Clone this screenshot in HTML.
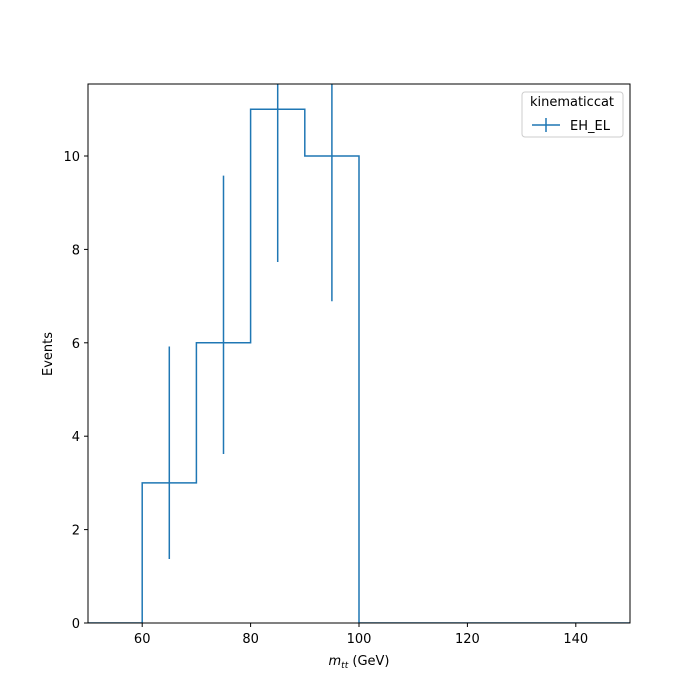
<!DOCTYPE html>
<html><head><meta charset="utf-8"><style>body{margin:0;background:#fff}svg{display:block;font-family:"DejaVu Sans","Liberation Sans",sans-serif}</style></head>
<body>
<script>
const binEdges=[50,60,70,80,90,100,110,120,130,140,150];
const counts=[0,3,6,11,10,0,0,0,0,0];
const errLow=[0,1.37,3.62,7.73,6.89,0,0,0,0,0];
const errHigh=[0,5.92,9.58,15.4,14.26,0,0,0,0,0];
const xTicks=[60,80,100,120,140];
const yTicks=[0,2,4,6,8,10];
</script>
<svg width="700" height="700">
<rect x="0" y="0" width="700" height="700" fill="#fff"/>
<defs><clipPath id="c"><rect x="88" y="84" width="542" height="539"/></clipPath></defs>
<g id="plot" clip-path="url(#c)"></g>
<rect x="88" y="84" width="542" height="539" fill="none" stroke="#000" stroke-width="1"/>
<g id="axes" font-size="13"></g>
<text x="359" y="665" text-anchor="middle" font-size="13"><tspan font-style="italic">m</tspan><tspan font-style="italic" font-size="9" dy="3">tt</tspan><tspan dy="-3"> (GeV)</tspan></text>
<text transform="translate(52,354) rotate(-90)" text-anchor="middle" font-size="13">Events</text>
<g>
<rect x="522" y="92" width="101" height="45" rx="3" fill="#fff" fill-opacity="0.8" stroke="#ccc"/>
<text x="572" y="106" text-anchor="middle" font-size="13">kinematiccat</text>
<line x1="532" y1="125" x2="560" y2="125" stroke="#1f77b4" stroke-width="1.5"/>
<line x1="546" y1="118" x2="546" y2="132" stroke="#1f77b4" stroke-width="1.5"/>
<text x="570" y="130" font-size="13">EH_EL</text>
</g>
</svg>
<script>
(function(){
var NS="http://www.w3.org/2000/svg";
function X(v){return 88+(v-50)*542/100;}
function Y(v){return 623-v*46.7;}
var plot=document.getElementById('plot'),axes=document.getElementById('axes');
function mk(p,t,a){var e=document.createElementNS(NS,t);for(var k in a)e.setAttribute(k,a[k]);p.appendChild(e);return e;}
var d="M"+X(binEdges[0])+","+Y(0);
for(var i=0;i<counts.length;i++){d+=" L"+X(binEdges[i])+","+Y(counts[i])+" L"+X(binEdges[i+1])+","+Y(counts[i]);}
d+=" L"+X(binEdges[binEdges.length-1])+","+Y(0);
var p=mk(plot,'path',{d:d,fill:'none',stroke:'#1f77b4','stroke-width':1.5});


for(var j=0;j<counts.length;j++){if(counts[j]<=0)continue;var xc=X((binEdges[j]+binEdges[j+1])/2);
var e=mk(plot,'line',{x1:xc,x2:xc,y1:Y(errLow[j]),y2:Y(errHigh[j]),stroke:'#1f77b4','stroke-width':1.5});

}
xTicks.forEach(function(v){var l=mk(axes,'line',{x1:X(v),x2:X(v),y1:623,y2:627,stroke:'#000'});


var t=mk(axes,'text',{x:X(v),y:643,'text-anchor':'middle'});t.textContent=v;

});
yTicks.forEach(function(v){var l=mk(axes,'line',{x1:84,x2:88,y1:Y(v),y2:Y(v),stroke:'#000'});


var t=mk(axes,'text',{x:80,y:Y(v)+5,'text-anchor':'end'});t.textContent=v;

});
})();
</script>
</body></html>
